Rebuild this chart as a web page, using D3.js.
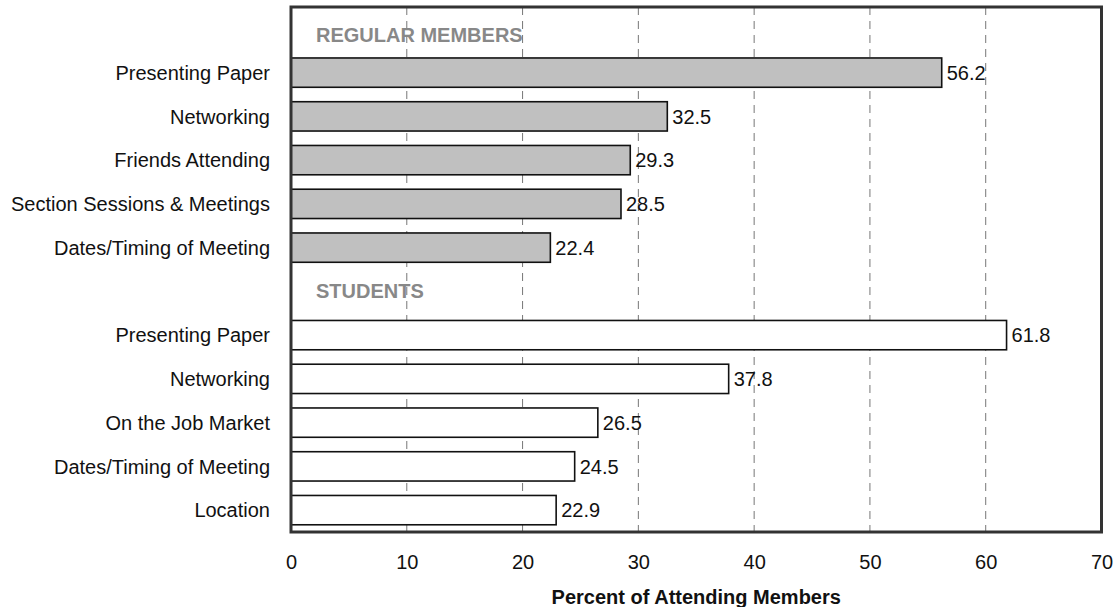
<!DOCTYPE html>
<html>
<head>
<meta charset="utf-8">
<script src="https://cdn.jsdelivr.net/npm/d3@7"></script>
<style>
  html, body { margin: 0; padding: 0; background: #fff; }
  svg { display: block; font-family: "Liberation Sans", Arial, sans-serif; }
</style>
</head>
<body>
<svg id="chart" width="1116" height="607"></svg>
<script>
// ---- data ----
const groupTitles = ["REGULAR MEMBERS", "STUDENTS"];
const regularCategories = ["Presenting Paper", "Networking", "Friends Attending", "Section Sessions & Meetings", "Dates/Timing of Meeting"];
const regularValues = [56.2, 32.5, 29.3, 28.5, 22.4];
const studentCategories = ["Presenting Paper", "Networking", "On the Job Market", "Dates/Timing of Meeting", "Location"];
const studentValues = [61.8, 37.8, 26.5, 24.5, 22.9];
const xTicks = [0, 10, 20, 30, 40, 50, 60, 70];
const xTitle = "Percent of Attending Members";

(function () {
// ---- rows (header row + bars per group) ----
const rows = [];
rows.push({ type: "header", label: groupTitles[0], id: "h0" });
regularCategories.forEach((c, i) => rows.push({ type: "bar", group: 0, label: c, value: regularValues[i], id: "r" + i }));
rows.push({ type: "header", label: groupTitles[1], id: "h1" });
studentCategories.forEach((c, i) => rows.push({ type: "bar", group: 1, label: c, value: studentValues[i], id: "s" + i }));

const svg = d3.select("#chart");
const pLeft = 291, pRight = 1101.5, pTop = 7, pBottom = 532;

const x = d3.scaleLinear().domain([0, 70]).range([pLeft, pRight]);
const y = d3.scaleBand().domain(rows.map(r => r.id)).range([pTop, pBottom]).paddingInner(0.33).paddingOuter(0.165);

// gridlines
svg.append("g").selectAll("line")
  .data(xTicks.filter(t => t > 0 && t < 70))
  .join("line")
  .attr("x1", d => x(d)).attr("x2", d => x(d))
  .attr("y1", pTop).attr("y2", pBottom)
  .attr("stroke", "#777").attr("stroke-width", 1)
  .attr("stroke-dasharray", "8,6");

// bars
const barRows = rows.filter(r => r.type === "bar");
svg.append("g").selectAll("rect")
  .data(barRows)
  .join("rect")
  .attr("x", x(0))
  .attr("y", d => y(d.id))
  .attr("width", d => x(d.value) - x(0))
  .attr("height", y.bandwidth())
  .attr("fill", d => d.group === 0 ? "#c0c0c0" : "#ffffff")
  .attr("stroke", "#111").attr("stroke-width", 1.6);

// value labels
svg.append("g").selectAll("text")
  .data(barRows)
  .join("text")
  .attr("x", d => x(d.value) + 5)
  .attr("y", d => y(d.id) + y.bandwidth() / 2)
  .attr("dy", "0.36em")
  .attr("font-size", 20).attr("fill", "#111")
  .text(d => d.value.toFixed(1));

// category labels
svg.append("g").selectAll("text")
  .data(barRows)
  .join("text")
  .attr("x", pLeft - 21)
  .attr("y", d => y(d.id) + y.bandwidth() / 2)
  .attr("dy", "0.36em")
  .attr("text-anchor", "end")
  .attr("font-size", 20).attr("fill", "#111")
  .text(d => d.label);

// group headers
const headerRows = rows.filter(r => r.type === "header");
svg.append("g").selectAll("text")
  .data(headerRows)
  .join("text")
  .attr("x", pLeft + 25)
  .attr("y", (d, i) => y(d.id) + y.bandwidth() / 2 + (i === 0 ? 6 : -1))
  .attr("dy", "0.36em")
  .attr("font-size", 20).attr("font-weight", "bold").attr("fill", "#888")
  .text(d => d.label);

// frame
svg.append("rect")
  .attr("x", pLeft).attr("y", pTop)
  .attr("width", pRight - pLeft).attr("height", pBottom - pTop)
  .attr("fill", "none").attr("stroke", "#333").attr("stroke-width", 3);

// x axis labels
const axis = d3.axisBottom(x).tickValues(xTicks).tickSize(0).tickPadding(0).tickFormat(d3.format("d"));
const ax = svg.append("g").attr("transform", `translate(0,${pBottom})`).call(axis);
ax.select(".domain").remove();
ax.selectAll("text")
  .attr("y", 30).attr("dy", "0.36em")
  .attr("font-size", 20).attr("fill", "#111")
  .attr("font-family", "Liberation Sans, Arial, sans-serif");

// axis title
svg.append("text")
  .attr("x", (pLeft + pRight) / 2)
  .attr("y", 597).attr("dy", "0.36em")
  .attr("text-anchor", "middle")
  .attr("font-size", 20).attr("font-weight", "bold").attr("fill", "#111")
  .text(xTitle);
})();
</script>
</body>
</html>
